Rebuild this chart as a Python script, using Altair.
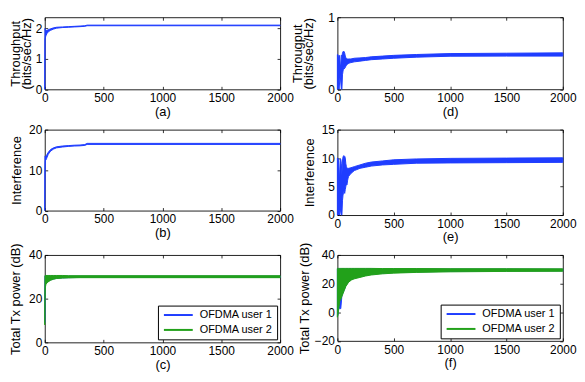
import altair as alt
import pandas as pd

FONT = "Liberation Sans"
BLUE = "#1f3dff"
GREEN = "#22a11a"
SERIES = ["OFDMA user 1", "OFDMA user 2"]
X_TICKS = [0, 500, 1000, 1500, 2000]

# (a) throughput, left column
A_X = [0, 2, 5, 10, 20, 30, 50, 75, 100, 150, 200, 250, 300, 340, 360, 2000]
A_LO = [0, 1.62, 1.70, 1.76, 1.84, 1.89, 1.94, 1.98, 2.01, 2.03, 2.04, 2.05, 2.06, 2.07, 2.09, 2.09]
A_HI = [0, 2.00, 1.93, 1.92, 1.94, 1.96, 1.99, 2.02, 2.04, 2.05, 2.06, 2.07, 2.08, 2.09, 2.11, 2.11]

# (b) interference, left column
B_X = [0, 2, 5, 10, 15, 20, 30, 50, 75, 100, 150, 200, 250, 300, 340, 360, 2000]
B_LO = [0, 9.5, 12.3, 12.5, 12.8, 13.2, 13.9, 14.7, 15.2, 15.5, 15.7, 15.85, 15.95, 16.0, 16.1, 16.35, 16.35]
B_HI = [0, 13.5, 13.4, 13.4, 13.6, 13.9, 14.4, 15.1, 15.5, 15.75, 15.95, 16.05, 16.15, 16.2, 16.3, 16.6, 16.6]

# (c) total Tx power, left column
C_X = [0, 2, 5, 10, 20, 35, 50, 75, 100, 150, 200, 300, 2000]
C1_LO = [9, 21, 26, 27, 27.6, 28.1, 28.6, 29.0, 29.3, 29.5, 29.6, 29.7, 29.7]
C1_HI = [9, 30.4, 30.4, 30.4, 30.4, 30.4, 30.4, 30.4, 30.4, 30.4, 30.3, 30.3, 30.3]
C2_LO = [8, 20, 25, 26.5, 27.3, 27.9, 28.4, 28.9, 29.2, 29.4, 29.5, 29.6, 29.6]
C2_HI = [8, 30.6, 30.6, 30.6, 30.6, 30.6, 30.6, 30.6, 30.6, 30.6, 30.5, 30.5, 30.5]

# (d) throughput, right column
D_X = [0, 5, 10, 15, 20, 25, 30, 35, 40, 45, 50, 55, 60, 65, 70, 75, 80, 85, 90, 95, 100,
       120, 150, 200, 250, 300, 400, 500, 700, 1000, 1500, 2000]
D_LO = [0, 0, 0.05, 0, 0.1, 0.2, 0.1, 0, 0, 0.2, 0.25, 0.3, 0.28, 0.3, 0.3, 0.32, 0.33, 0.34, 0.35, 0.35, 0.36,
        0.37, 0.38, 0.39, 0.40, 0.41, 0.42, 0.43, 0.445, 0.458, 0.46, 0.46]
D_HI = [0.48, 0.48, 0.45, 0.40, 0.47, 0.35, 0.30, 0.47, 0.46, 0.50, 0.52, 0.53, 0.52, 0.50, 0.46, 0.44, 0.43, 0.42, 0.42, 0.42, 0.42,
        0.42, 0.43, 0.435, 0.44, 0.45, 0.46, 0.47, 0.482, 0.495, 0.50, 0.505]

# (e) interference, right column
E_X = D_X
E_LO = [0, 0, 0.5, 0, 0, 1.5, 0.5, 0, 0, 2.5, 3.5, 4.0, 4.2, 3.8, 4.5, 5.0, 5.5, 5.3, 6.0, 6.5, 6.8,
        7.3, 7.8, 8.2, 8.4, 8.6, 8.8, 8.9, 9.1, 9.15, 9.2, 9.25]
E_HI = [10.0, 10.0, 9.5, 8.0, 6.0, 9.8, 9.8, 9.0, 7.0, 9.5, 10.2, 10.4, 10.4, 10.3, 10.0, 9.0, 8.5, 8.3, 8.2, 8.2, 8.2,
        8.3, 8.5, 8.8, 9.1, 9.3, 9.5, 9.7, 9.85, 9.95, 10.0, 10.05]

# (f) total Tx power, right column
F_X = [0, 5, 10, 15, 20, 30, 40, 50, 60, 75, 100, 125, 150, 200, 250, 300, 400, 500, 700, 1000, 1500, 2000]
F1_LO = [-3, -1.5, 1.5, 4.5, 2.5, 2.5, 11.5, 13.5, 15.5, 18.5, 21.5, 23, 23.8, 24.8, 25.8, 26.5, 27.2, 27.7, 28.2, 28.5, 28.8, 28.9]
F1_HI = [30.3, 30.3, 30.3, 30.3, 30.3, 30.3, 30.3, 30.3, 30.3, 30.3, 30.3, 30.3, 30.3, 30.3, 30.3, 30.3, 30.2, 30.2, 30.2, 30.1, 30.1, 30.0]
F2_LO = [-3.5, -2, 1, 4, 7.5, 9, 11, 13, 15, 18, 21, 22.5, 23.3, 24.3, 25.3, 26, 26.8, 27.3, 27.8, 28.2, 28.5, 28.6]
F2_HI = [30.6, 30.6, 30.6, 30.6, 30.6, 30.6, 30.6, 30.6, 30.6, 30.6, 30.6, 30.6, 30.6, 30.6, 30.6, 30.6, 30.5, 30.5, 30.5, 30.4, 30.4, 30.3]


def band(xs, lo, hi, name=None):
    d = pd.DataFrame({"x": xs, "lo": lo, "hi": hi})
    if name is not None:
        d["series"] = name
    return d


TICK_IN = {"expr": "-3"}


def make_legend():
    return alt.Legend(
        title=None, orient="bottom-right", offset=3,
        symbolType="M-1,0H7.3", symbolSize=49, symbolStrokeWidth=2,
        labelFont=FONT, labelFontSize=11, labelColor="black",
        labelOffset=27, padding=4, rowPadding=3,
        strokeColor="black", fillColor="white", cornerRadius=0)


def panel(df, ydom, yticks, ytitle, xtitle, w, h, multi=False, ytitle_pad=2):
    xs = alt.Scale(domain=[0, 2000], nice=False, zero=False)
    ys = alt.Scale(domain=ydom, nice=False, zero=False)
    x = alt.X("x:Q", scale=xs, axis=alt.Axis(
        values=X_TICKS, format="d", title=xtitle, tickSize=TICK_IN, labelPadding=6.5,
        titlePadding=1.5, labelFlush=False, labelOverlap=False, grid=False, domain=False))
    y = alt.Y("lo:Q", scale=ys, stack=None, axis=alt.Axis(
        values=yticks, format="d", title=ytitle, tickSize=TICK_IN, labelPadding=6,
        titlePadding=ytitle_pad, titleLineHeight=11, labelFlush=False,
        labelOverlap=False, grid=False, domain=False))
    y2 = alt.Y2("hi:Q")
    if multi:
        sc = alt.Scale(domain=SERIES, range=[BLUE, GREEN])
        main = alt.Chart(df).mark_area(strokeWidth=1, opacity=1).encode(
            x=x, y=y, y2=y2,
            fill=alt.Fill("series:N", scale=sc, legend=make_legend()),
            stroke=alt.Stroke("series:N", scale=sc, legend=make_legend()),
        )
    else:
        main = alt.Chart(df).mark_area(fill=BLUE, stroke=BLUE, strokeWidth=1, opacity=1).encode(
            x=x, y=y, y2=y2)
    frame = alt.Chart(df).mark_point(opacity=0).encode(
        x=alt.X("x:Q", scale=xs, axis=alt.Axis(
            orient="top", values=X_TICKS, labels=False, title=None,
            tickSize=TICK_IN, grid=False, domain=False)),
        y=alt.Y("lo:Q", scale=ys, axis=alt.Axis(
            orient="right", values=yticks, labels=False, title=None,
            tickSize=TICK_IN, grid=False, domain=False)),
    )
    return alt.layer(main, frame).resolve_axis(
        x="independent", y="independent").properties(width=w, height=h)


dfA = band(A_X, A_LO, A_HI)
dfB = band(B_X, B_LO, B_HI)
dfC = pd.concat([band(C_X, C1_LO, C1_HI, SERIES[0]), band(C_X, C2_LO, C2_HI, SERIES[1])])
dfD = band(D_X, D_LO, D_HI)
dfE = band(E_X, E_LO, E_HI)
dfF = pd.concat([band(F_X, F1_LO, F1_HI, SERIES[0]), band(F_X, F2_LO, F2_HI, SERIES[1])])

LW, RW = 237, 227

pa = panel(dfA, [0, 2.37], [0, 1, 2], ["Throughput", "(bits/sec/Hz)"], "(a)", LW, 72.6, ytitle_pad=2)
pb = panel(dfB, [0, 20], [0, 10, 20], "Interference", "(b)", LW, 81.5, ytitle_pad=5)
pc = panel(dfC, [0, 40], [0, 20, 40], "Total Tx power (dB)", "(c)", LW, 88, multi=True, ytitle_pad=6)
pd_ = panel(dfD, [0, 1], [0, 1], ["Througput", "(bits/sec/Hz)"], "(d)", RW, 72.5, ytitle_pad=12)
pe = panel(dfE, [0, 15], [0, 5, 10, 15], "Interference", "(e)", RW, 86, ytitle_pad=5)
pf = panel(dfF, [-20, 40], [-20, 0, 20, 40], "Total Tx power (dB)", "(f)", RW, 86.5, multi=True, ytitle_pad=3)

chart = alt.concat(
    pa, pd_, pb, pe, pc, pf, columns=2, bounds="flush",
    spacing={"row": 40.2, "column": 57.7},
).resolve_scale(
    fill="independent", stroke="independent"
).resolve_legend(
    fill="independent", stroke="independent"
).properties(
    padding={"left": 0, "top": 1, "right": 0, "bottom": 0}
).configure(font=FONT).configure_axis(
    labelFont=FONT, labelFontSize=12, labelColor="black",
    titleFont=FONT, titleFontSize=13, titleFontWeight="normal", titleColor="black",
    tickColor="black", tickWidth=0.8,
).configure_view(stroke="#222222", strokeWidth=1)

chart.save("out.html", embed_options={"renderer": "svg", "actions": False})
